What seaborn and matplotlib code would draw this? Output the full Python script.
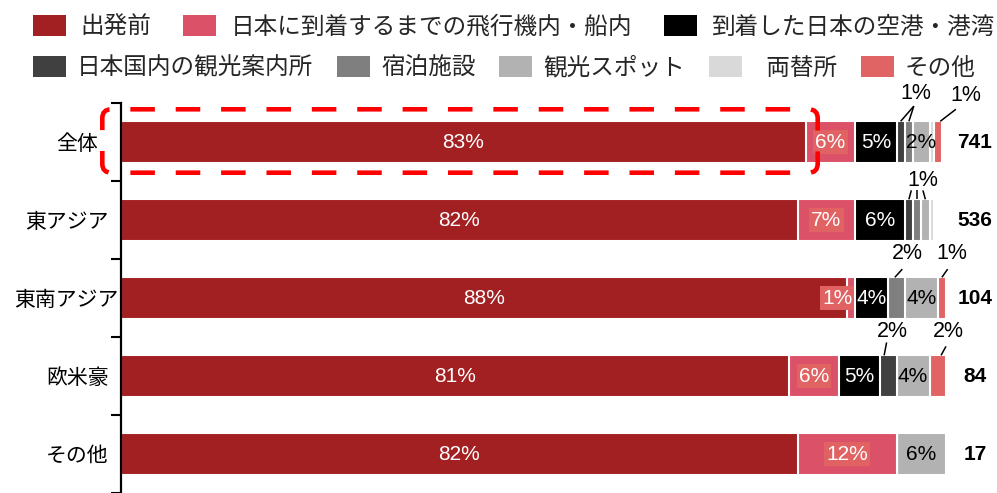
import matplotlib
matplotlib.use("Agg")
import matplotlib.pyplot as plt
from matplotlib.patches import Patch, FancyBboxPatch
from matplotlib.transforms import ScaledTranslation
import numpy as np
import pandas as pd
import seaborn as sns

# Regions (rows) and respondent counts
regions = ["全体", "東アジア", "東南アジア", "欧米豪", "その他"]
counts = [741, 536, 104, 84, 17]

# Where information was obtained (stack order, left to right)
series = ["出発前", "日本に到着するまでの飛行機内・船内", "到着した日本の空港・港湾",
          "日本国内の観光案内所", "宿泊施設", "観光スポット", "両替所", "その他"]
legend_labels = ["出発前", "日本に到着するまでの飛行機内・船内", "到着した日本の空港・港湾",
                 "日本国内の観光案内所", "宿泊施設", "観光スポット", "  両替所", "その他"]
colors = ["#A21F22", "#DB5268", "#000000", "#404040",
          "#7F7F7F", "#B2B2B2", "#D9D9D9", "#E06464"]

# Shares (%) per region, one list per source
departure    = [83, 82, 88, 81, 82]
in_transit   = [6, 7, 1, 6, 12]
arrival_port = [5, 6, 4, 5, 0]
info_center  = [1, 1, 0, 2, 0]
lodging      = [1, 1, 2, 0, 0]
sightseeing  = [2, 1, 4, 4, 6]
exchange     = [0.5, 0.5, 0, 0, 0]
other        = [1, 0, 1, 2, 0]

vals = np.array([departure, in_transit, arrival_port, info_center,
                 lodging, sightseeing, exchange, other], dtype=float)
ends = vals.cumsum(axis=0)
starts = ends - vals

# Small segments labelled outside the bar with leader lines:
# (row, segments, text dx, text dy, line-start dx, line-start dy, spread, line-end dx)
callouts = [
    (0, [3, 4], 1.4, -0.62, 1.1, -0.46, 0.0, 0.0),
    (0, [7], 3.4, -0.60, 2.2, -0.42, 0.0, 0.3),
    (1, [3, 4, 5], 0.7, -0.51, 0.0, -0.38, 0.7, 0.0),
    (2, [4], 1.35, -0.57, 0.7, -0.37, 0.0, -0.2),
    (2, [7], 1.2, -0.57, 0.7, -0.37, 0.0, 0.0),
    (3, [3], 0.5, -0.57, -0.2, -0.43, 0.0, -0.5),
    (3, [7], 1.3, -0.57, 1.0, -0.38, 0.0, 0.4),
]
# horizontal nudges for crowded inside labels: (row, segment) -> dx
inside_nudge = {(2, 1): -1.7}
# horizontal nudges (pixels) for individual row labels
row_label_shift = {0: -11, 2: 10}

sns.set_theme(style="white")
plt.rcParams["font.family"] = ["Liberation Sans", "Noto Sans CJK JP"]

fig = plt.figure(figsize=(9.97, 4.93), dpi=100)
fig.patch.set_facecolor("white")
ax = fig.add_axes([121 / 997, 0, 825 / 997, 390 / 493])

bar_h = 0.53
for k in reversed(range(len(series))):
    sub = pd.DataFrame({"region": regions, "end": ends[k]})
    sns.barplot(data=sub, x="end", y="region", order=regions, color=colors[k],
                saturation=1, width=bar_h, edgecolor="white", linewidth=1.5,
                errorbar=None, ax=ax)

ax.set_xlim(0, 100)
ax.set_ylim(4.43, -0.5)
ax.set_xlabel("")
ax.set_ylabel("")
ax.xaxis.set_visible(False)
for s in ["top", "right", "bottom"]:
    ax.spines[s].set_visible(False)
ax.spines["left"].set_color("black")
ax.spines["left"].set_linewidth(1.6)
ax.set_yticks(range(len(regions)))
ax.set_yticklabels(regions, fontsize=15, color="black")
ax.tick_params(axis="y", which="major", length=0, pad=9, left=False)
ax.set_yticks(np.arange(-0.5, len(regions), 1), minor=True)
ax.tick_params(axis="y", which="minor", length=7, width=1.5, color="black", left=True)
for idx, lbl in enumerate(ax.get_yticklabels()):
    if idx in row_label_shift:
        lbl.set_transform(lbl.get_transform() +
                          ScaledTranslation(row_label_shift[idx] / 100, 0,
                                            fig.dpi_scale_trans))

called = {(r, s) for r, segs, *_ in callouts for s in segs}

# labels inside the segments
for k in range(len(series)):
    for i in range(len(regions)):
        v = vals[k, i]
        if v < 1 or series[k] == "両替所" or (i, k) in called:
            continue
        xc = (starts[k, i] + ends[k, i]) / 2 + inside_nudge.get((i, k), 0)
        kw = dict(ha="center", va="center", fontsize=15)
        if k == 1:
            kw["bbox"] = dict(boxstyle="square,pad=0.1", fc="#E06262", ec="none")
        color = "white" if k <= 2 else "black"
        ax.text(xc, i, f"{v:.0f}%", color=color, **kw)

# outside labels with leader lines
for r, segs, tdx, tdy, ldx, ldy, spread, edx in callouts:
    centers = [(starts[s, r] + ends[s, r]) / 2 for s in segs]
    mean_c = float(np.mean(centers))
    ax.text(mean_c + tdx, r + tdy, f"{vals[segs[0], r]:.0f}%", ha="center",
            va="center", fontsize=15.5, color="black", clip_on=False)
    for c in centers:
        x0 = mean_c + ldx + (c - mean_c) * spread
        ax.plot([x0, c + edx], [r + ldy, r - bar_h / 2], color="black",
                lw=1.1, clip_on=False, solid_capstyle="butt")

# respondent counts
for i, n in enumerate(counts):
    ax.text(103.5, i, str(n), ha="center", va="center", fontsize=15,
            fontweight="bold", color="black", clip_on=False)

# dashed highlight around the overall row (gaps centred on the short sides)
highlight = FancyBboxPatch((1.023, 3.203), 7.154, 0.634,
                           boxstyle="round,pad=0,rounding_size=0.09",
                           transform=fig.dpi_scale_trans, fill=False,
                           ec="#FF0000", lw=3.3,
                           linestyle=(5.74, (5.35, 4.55)), zorder=5)
fig.add_artist(highlight)

# two-row legend
h1 = [Patch(fc=colors[i], ec="none") for i in range(3)]
h2 = [Patch(fc=colors[i], ec="none") for i in range(3, 8)]
common = dict(loc="upper left", frameon=False, fontsize=17, handlelength=1.4,
              handleheight=1.0, borderpad=0, borderaxespad=0)
leg1 = fig.legend(h1, legend_labels[:3], bbox_to_anchor=(33 / 997, 1 - 15 / 493),
                  ncol=3, handletextpad=0.6, columnspacing=1.36, **common)
leg2 = fig.legend(h2, legend_labels[3:], bbox_to_anchor=(33 / 997, 1 - 56 / 493),
                  ncol=5, handletextpad=0.47, columnspacing=1.0, **common)

fig.savefig("out.png", dpi=100, facecolor="white")
